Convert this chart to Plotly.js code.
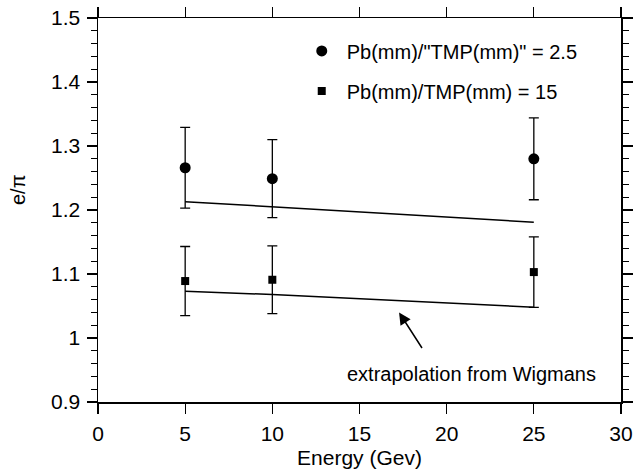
<!DOCTYPE html>
<html><head><meta charset="utf-8">
<script src="https://cdn.plot.ly/plotly-3.0.1.min.js"></script>
<style>body{margin:0;background:#fff}#chart{width:636px;height:471px}</style>
</head><body><div id="chart"></div>
<script>
const energy = [5, 10, 25];
const ratioA = [1.266, 1.249, 1.280];
const errA = [0.063, 0.061, 0.064];
const ratioB = [1.089, 1.091, 1.103];
const errB = [0.054, 0.053, 0.055];
const extrapA = [1.213, 1.205, 1.181];
const extrapB = [1.073, 1.068, 1.048];
const labelA = 'Pb(mm)/"TMP(mm)" = 2.5';
const labelB = 'Pb(mm)/TMP(mm) = 15';

const font = {family: '"Liberation Sans", Arial, sans-serif', color: '#000'};
const traces = [
  {x: energy, y: extrapA, mode: 'lines', line: {color: '#000', width: 1.5}, showlegend: false, hoverinfo: 'skip'},
  {x: energy, y: extrapB, mode: 'lines', line: {color: '#000', width: 1.5}, showlegend: false, hoverinfo: 'skip'},
  {x: energy, y: ratioA, mode: 'markers', name: labelA, legendgroup: 'a',
   marker: {symbol: 'circle', size: 11, color: '#000'},
   error_y: {type: 'data', array: errA, visible: true, color: '#000', thickness: 1.3, width: 5}},
  {x: energy, y: ratioB, mode: 'markers', name: labelB, legendgroup: 'b',
   marker: {symbol: 'square', size: 8, color: '#000'},
   error_y: {type: 'data', array: errB, visible: true, color: '#000', thickness: 1.3, width: 5}}
];
const axisCommon = {showgrid: false, zeroline: false, showline: true, linecolor: '#000', linewidth: 1.5,
  mirror: 'allticks', ticks: 'outside', tickcolor: '#000', tickwidth: 1.3, ticklen: 10,
  tickfont: Object.assign({size: 21}, font)};
const layout = {
  width: 636, height: 471,
  margin: {l: 98, r: 15, t: 18, b: 69},
  paper_bgcolor: '#fff', plot_bgcolor: '#fff',
  font: font,
  showlegend: true,
  legend: {x: 0.38, y: 0.965, xanchor: 'left', yanchor: 'top', bgcolor: 'rgba(0,0,0,0)',
    font: Object.assign({size: 20}, font), traceorder: 'grouped', tracegroupgap: 11, itemwidth: 40},
  xaxis: Object.assign({}, axisCommon, {range: [0, 30], dtick: 5, tick0: 0, ticklabelstandoff: 2,
    title: {text: 'Energy (Gev)', font: Object.assign({size: 21}, font), standoff: 6}}),
  yaxis: Object.assign({}, axisCommon, {range: [0.9, 1.5], dtick: 0.1, tick0: 0.9, ticklabelstandoff: 2,
    minor: {dtick: 0.02, ticks: 'outside', ticklen: 6, tickcolor: '#000', tickwidth: 1}}),
  annotations: [
    {xref: 'paper', yref: 'paper', x: -0.153, y: 0.552, xanchor: 'center', yanchor: 'middle',
     text: 'e/π', textangle: -90, showarrow: false, font: Object.assign({size: 20}, font)},
    {xref: 'x', yref: 'y', x: 21.4, y: 0.943, text: 'extrapolation from Wigmans', showarrow: false,
     font: Object.assign({size: 20}, font)},
    {xref: 'x', yref: 'y', x: 17.27, y: 1.040, ax: 18.64, ay: 0.982, axref: 'x', ayref: 'y',
     text: '', showarrow: true, arrowhead: 2, arrowsize: 1.6, arrowwidth: 1.5, arrowcolor: '#000'}
  ]
};
Plotly.newPlot('chart', traces, layout, {displayModeBar: false, staticPlot: true});
</script></body></html>
